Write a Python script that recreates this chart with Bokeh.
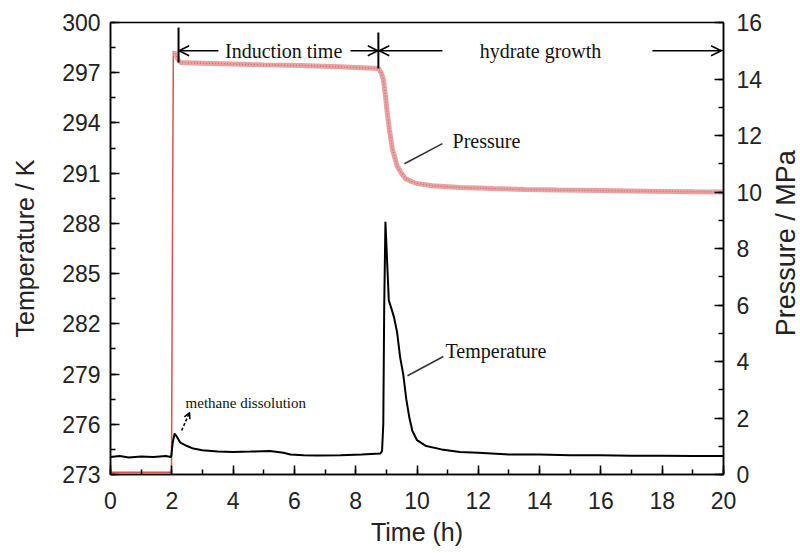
import math
from bokeh.plotting import figure
from bokeh.layouts import row
from bokeh.models import (Range1d, LinearAxis, SingleIntervalTicker, Label, Arrow, OpenHead)
from bokeh.embed import file_html
from bokeh.resources import INLINE

# ---------------- data ----------------
time_T = [0.0, 0.3, 0.6, 1.0, 1.4, 1.8, 1.98, 2.03, 2.09, 2.15, 2.28, 2.5, 2.7, 3.0, 3.5,
          4.0, 4.57, 5.2, 5.64, 5.87, 6.3, 6.75, 7.5, 8.2, 8.8, 8.86, 8.9, 8.93, 8.97,
          9.03, 9.08, 9.15, 9.25, 9.35, 9.45, 9.55, 9.65, 9.75, 9.85, 10.0, 10.3,
          10.8, 11.4, 12.0, 13.0, 14.0, 15.0, 16.0, 17.0, 18.0, 19.0, 20.0]
temp_K = [274.05, 274.1, 274.02, 274.08, 274.05, 274.1, 274.05, 274.9, 275.45, 275.3, 274.9,
          274.7, 274.55, 274.45, 274.37, 274.35, 274.37, 274.4, 274.3, 274.2, 274.15,
          274.13, 274.15, 274.2, 274.25, 274.4, 276.0, 283.0, 288.1, 285.5, 283.4,
          283.0, 282.4, 281.5, 280.0, 279.0, 277.5, 276.4, 275.6, 275.05, 274.7,
          274.5, 274.35, 274.3, 274.2, 274.2, 274.15, 274.15, 274.12, 274.12, 274.1, 274.1]

time_P = [0.0, 1.0, 1.99, 2.02, 2.05, 2.09, 2.2, 2.28, 3.0, 4.0, 5.0, 6.2, 7.5, 8.74,
          8.82, 8.9, 8.97, 9.03, 9.1, 9.2, 9.36, 9.5, 9.62, 9.8, 10.0, 10.5, 11.42,
          12.5, 13.5, 14.6, 16.0, 17.5, 19.0, 20.0]
pres_MPa = [0.08, 0.08, 0.08, 8.0, 14.9, 14.94, 14.7, 14.58, 14.56, 14.53, 14.5, 14.48,
            14.43, 14.37, 14.25, 14.0, 13.4, 12.8, 12.2, 11.5, 10.9, 10.65, 10.48, 10.38,
            10.3, 10.22, 10.16, 10.12, 10.09, 10.07, 10.05, 10.03, 10.01, 10.0]

x_ticks_interval = 2
left_ticks_interval = 3
right_ticks_interval = 2

serif = "Liberation Serif"
sans = "Liberation Sans"

p = figure(width=770, height=553, output_backend="svg", toolbar_location=None,
           x_range=Range1d(0, 20), y_range=Range1d(273, 300),
           min_border_left=110, min_border_right=47, min_border_top=22, min_border_bottom=79)
p.extra_y_ranges = {"pres": Range1d(0, 16)}
p.grid.visible = False
p.outline_line_color = "black"
p.outline_line_width = 1.5
p.background_fill_color = "white"
p.border_fill_color = "white"

def style_axis(ax):
    ax.axis_line_color = "black"
    ax.axis_line_width = 1.5
    ax.major_tick_in = 9
    ax.major_tick_out = 0
    ax.minor_tick_in = 5
    ax.minor_tick_out = 0
    ax.major_tick_line_width = 1.5
    ax.minor_tick_line_width = 1.5
    ax.major_tick_line_color = "black"
    ax.minor_tick_line_color = "black"
    ax.major_label_text_font = sans
    ax.major_label_text_font_size = "23px"
    ax.major_label_text_color = "#222222"
    ax.axis_label_text_font = sans
    ax.axis_label_text_font_size = "25px"
    ax.axis_label_text_font_style = "normal"
    ax.axis_label_text_color = "#222222"

xa = p.xaxis[0]
xa.ticker = SingleIntervalTicker(interval=x_ticks_interval, num_minor_ticks=2)
xa.axis_label = "Time (h)"
style_axis(xa)
xa.major_label_standoff = 17
xa.axis_label_standoff = 6

ya = p.yaxis[0]
ya.ticker = SingleIntervalTicker(interval=left_ticks_interval, num_minor_ticks=2)
ya.axis_label = "Temperature / K"
style_axis(ya)
ya.major_label_standoff = 10
ya.axis_label_standoff = 20

ra = LinearAxis(y_range_name="pres",
                ticker=SingleIntervalTicker(interval=right_ticks_interval, num_minor_ticks=2))
style_axis(ra)
ra.major_label_standoff = 13
p.add_layout(ra, "right")

# pressure: thin red part (before/at jump) and thick dotted pink part
n_jump = 4
p.line(time_P[:n_jump + 1], pres_MPa[:n_jump + 1], y_range_name="pres",
       line_color="#d9534f", line_width=1.5)
p.line(time_P[n_jump:], pres_MPa[n_jump:], y_range_name="pres",
       line_color="#e8a2a2", line_width=5)
p.line(time_P[n_jump:], pres_MPa[n_jump:], y_range_name="pres",
       line_color="#d26a6a", line_width=1.2, line_dash="1 2")

# temperature
p.line(time_T, temp_K, line_color="black", line_width=2)

# ---------------- annotations ----------------
def seg(x0, y0, x1, y1, rng=None, w=1.5, color="black"):
    kw = {}
    if rng:
        kw["y_range_name"] = rng
    p.segment(x0=[x0], y0=[y0], x1=[x1], y1=[y1], line_color=color, line_width=w, **kw)

def arrow(x0, y0, x1, y1, rng="default", size=10, dash="solid", w=1.5):
    p.add_layout(Arrow(end=OpenHead(size=size, line_width=w, line_color="black"),
                       x_start=x0, y_start=y0, x_end=x1, y_end=y1,
                       line_width=w, line_color="black", line_dash=dash,
                       y_range_name=rng))

# induction time brackets
seg(2.22, 15.82, 2.22, 14.58, "pres", w=2)
seg(8.74, 15.65, 8.74, 14.37, "pres", w=2)
arrow(3.52, 15.0, 2.24, 15.0, "pres")
arrow(7.83, 15.0, 8.72, 15.0, "pres")
p.add_layout(Label(x=5.65, y=15.0, y_range_name="pres", text="Induction time",
                   text_font=serif, text_font_size="20px", text_align="center",
                   text_baseline="middle", text_color="#111111"))

# hydrate growth
arrow(10.83, 15.0, 8.77, 15.0, "pres")
arrow(17.68, 15.0, 19.92, 15.0, "pres")
p.add_layout(Label(x=14.03, y=15.0, y_range_name="pres", text="hydrate growth",
                   text_font=serif, text_font_size="20px", text_align="center",
                   text_baseline="middle", text_color="#111111"))

# Pressure label
seg(10.83, 11.71, 9.59, 11.0, "pres", w=1.5, color="#333333")
p.add_layout(Label(x=11.16, y=11.82, y_range_name="pres", text="Pressure",
                   text_font=serif, text_font_size="20px", text_align="left",
                   text_baseline="middle", text_color="#111111"))

# Temperature label
seg(10.86, 280.05, 9.69, 278.9, None, w=1.5, color="#333333")
p.add_layout(Label(x=10.93, y=280.4, text="Temperature",
                   text_font=serif, text_font_size="20px", text_align="left",
                   text_baseline="middle", text_color="#111111"))

# methane dissolution
arrow(2.32, 275.63, 2.58, 276.7, "default", size=6, dash="3 2", w=1.5)
p.add_layout(Label(x=2.45, y=277.3, text="methane dissolution",
                   text_font=serif, text_font_size="15px", text_align="left",
                   text_baseline="middle", text_color="#111111"))

# right-hand strip holding the pressure axis title (reads bottom-to-top)
q = figure(width=30, height=553, output_backend="svg", toolbar_location=None,
           x_axis_location=None, y_axis_location=None,
           x_range=Range1d(0, 30), y_range=Range1d(0, 553),
           min_border_left=0, min_border_right=0, min_border_top=0, min_border_bottom=0)
q.grid.visible = False
q.outline_line_color = None
q.background_fill_color = "white"
q.border_fill_color = "white"
q.add_layout(Label(x=15, y=283, angle=math.pi / 2, text="Pressure / MPa",
                   text_font=sans, text_font_size="27px", text_color="#222222",
                   text_align="center", text_baseline="middle"))

layout = row(p, q, spacing=0)
open("out.html", "w").write(file_html(layout, INLINE))
